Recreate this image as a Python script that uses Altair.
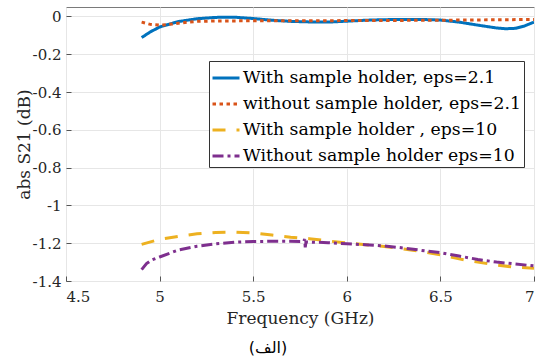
import altair as alt
import pandas as pd

# ---- data ----
series_names = [
    "With sample holder, eps=2.1",
    "without sample holder, eps=2.1",
    "With sample holder , eps=10",
    "Without sample holder eps=10",
]
series_colors = ["#0072BD", "#D95319", "#EDB120", "#7E2F8E"]
series_dashes = [[1, 0], [3.5, 3.5], [13, 11], [11, 4, 3, 4]]

freq_with_21 = [4.904, 4.95, 5.0, 5.1, 5.2, 5.3, 5.4, 5.5, 5.6, 5.7, 5.8, 5.9, 6.0,
                6.1, 6.2, 6.3, 6.4, 6.5, 6.6, 6.7, 6.8, 6.85, 6.9, 6.95, 7.0]
val_with_21 = [-0.112, -0.082, -0.056, -0.027, -0.012, -0.005, -0.004, -0.011, -0.020,
               -0.026, -0.029, -0.030, -0.025, -0.020, -0.017, -0.016, -0.016, -0.019,
               -0.030, -0.046, -0.061, -0.065, -0.063, -0.050, -0.030]

freq_without_21 = [4.904, 4.95, 5.0, 5.05, 5.1, 5.15, 5.2, 5.3, 5.5, 6.0, 6.5, 7.0]
val_without_21 = [-0.030, -0.042, -0.046, -0.042, -0.036, -0.030, -0.026, -0.024,
                  -0.023, -0.022, -0.020, -0.016]

freq_with_10 = [4.904, 5.0, 5.1, 5.2, 5.3, 5.4, 5.5, 5.6, 5.7, 5.8, 5.9, 6.0, 6.1,
                6.2, 6.3, 6.4, 6.5, 6.6, 6.7, 6.8, 6.9, 7.0]
val_with_10 = [-1.206, -1.180, -1.164, -1.150, -1.143, -1.141, -1.146, -1.157, -1.168,
               -1.176, -1.188, -1.199, -1.208, -1.217, -1.230, -1.244, -1.262, -1.283,
               -1.300, -1.316, -1.327, -1.333]

freq_without_10 = [4.904, 4.93, 4.96, 5.0, 5.1, 5.2, 5.3, 5.4, 5.5, 5.6, 5.7, 5.77,
                   5.775, 5.778, 5.782, 5.8, 5.9, 6.0, 6.1, 6.2, 6.3, 6.4, 6.5, 6.6,
                   6.7, 6.8, 6.9, 7.0]
val_without_10 = [-1.340, -1.308, -1.288, -1.273, -1.236, -1.216, -1.203, -1.195,
                  -1.191, -1.190, -1.190, -1.191, -1.178, -1.222, -1.193, -1.194,
                  -1.197, -1.203, -1.208, -1.215, -1.225, -1.238, -1.250, -1.268,
                  -1.286, -1.300, -1.310, -1.320]

x_ticks = [4.5, 5, 5.5, 6, 6.5, 7]
y_ticks = [-1.4, -1.2, -1, -0.8, -0.6, -0.4, -0.2, 0]

rows = []
for name, xs, ys in zip(series_names,
                        [freq_with_21, freq_without_21, freq_with_10, freq_without_10],
                        [val_with_21, val_without_21, val_with_10, val_without_10]):
    for i, (xv, yv) in enumerate(zip(xs, ys)):
        rows.append({"series": name, "f": xv, "v": yv, "i": i})
df = pd.DataFrame(rows)

serif = "DejaVu Serif"

legend = alt.Legend(
    title=None, orient="none", legendX=143, legendY=54,
    symbolType="stroke", symbolSize=729, symbolStrokeWidth=3,
    labelFont=serif, labelFontSize=17.3, labelColor="black", labelLimit=500,
    labelOffset=2, padding=2, rowPadding=2, gridAlign="all",
    strokeColor="#333333", fillColor="white",
)

chart = alt.Chart(df).mark_line(strokeWidth=3, strokeCap="butt", clip=True).encode(
    x=alt.X("f:Q",
            scale=alt.Scale(domain=[4.5, 7], nice=False, zero=False),
            axis=alt.Axis(values=x_ticks, title="Frequency (GHz)", offset=-5,
                          tickSize=5, domain=False, labelPadding=8,
                          labelExpr="replace(format(datum.value, '~g'), '\u2212', '-')")),
    y=alt.Y("v:Q",
            scale=alt.Scale(domain=[-1.4, 0.05], nice=False, zero=False),
            axis=alt.Axis(values=y_ticks, title="abs S21 (dB)", offset=-5,
                          tickSize=5, domain=False, labelPadding=5,
                          labelExpr="replace(format(datum.value, '~g'), '\u2212', '-')")),
    color=alt.Color("series:N", scale=alt.Scale(domain=series_names, range=series_colors),
                    legend=legend),
    strokeDash=alt.StrokeDash("series:N",
                              scale=alt.Scale(domain=series_names, range=series_dashes),
                              legend=legend),
    order="i:Q",
).properties(
    width=468, height=274,
    title=alt.TitleParams("(الف)", orient="bottom", anchor="middle", font="DejaVu Sans",
                          fontSize=16, fontWeight="normal", color="black", dx=-32, offset=14),
    autosize=alt.AutoSizeParams(type="none"),
    padding={"left": 66, "top": 7, "right": 5, "bottom": 80},
).configure_view(
    stroke="#7a7a7a", strokeWidth=1
).configure_axis(
    gridColor="#e6e6e6", gridWidth=1, tickColor="#555555",
    labelFont=serif, labelFontSize=15, labelColor="#262626",
    titleFont=serif, titleFontSize=17, titleFontWeight="normal", titleColor="#262626",
).configure_axisY(
    titlePadding=-1
).configure_axisX(
    titlePadding=6
)

chart.save("out.html", embed_options={"renderer": "svg", "actions": False})
